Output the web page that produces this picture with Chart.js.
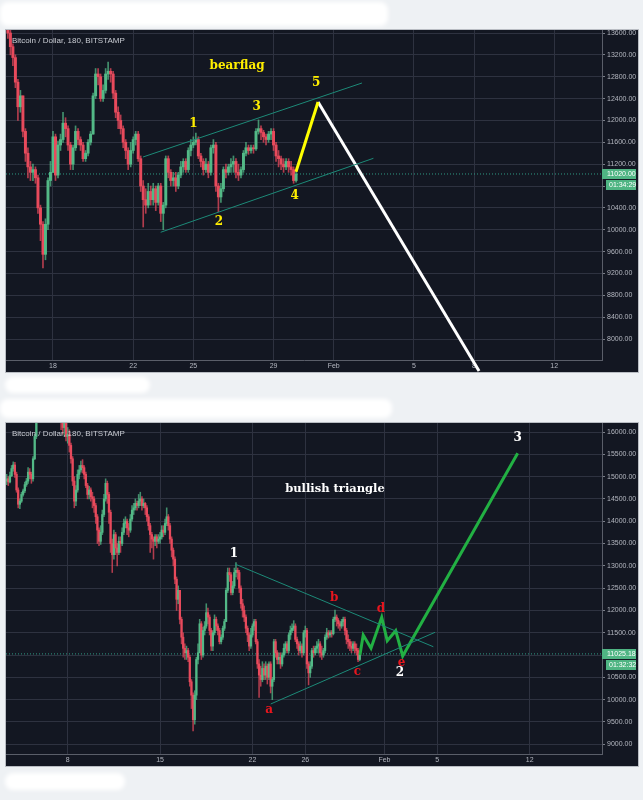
<!DOCTYPE html>
<html>
<head>
<meta charset="utf-8">
<script src="https://cdn.jsdelivr.net/npm/chart.js@4.4.1/dist/chart.umd.min.js"></script>
<style>
  html, body { margin: 0; padding: 0; background: #eef1f4; }
  body { width: 643px; height: 800px; position: relative; overflow: hidden; }
  .panel { position: absolute; left: 6px; width: 632px; background: #131722; outline: 1px solid #b9bdc3; }
  .panel canvas { display: block; }
  #topPanel { top: 30px; height: 342px; }
  #bottomPanel { top: 423px; height: 343px; }
  .smudge { position: absolute; background: #fff; border-radius: 8px; filter: blur(2px); }
</style>
</head>
<body>
<div class="smudge" style="left:0;top:2px;width:388px;height:24px"></div>
<div class="smudge" style="left:5px;top:377px;width:145px;height:16px"></div>
<div class="smudge" style="left:0;top:399px;width:392px;height:19px"></div>
<div class="smudge" style="left:5px;top:773px;width:120px;height:17px"></div>

<div class="panel" id="topPanel"><canvas id="topChart" width="632" height="342"></canvas></div>
<div class="panel" id="bottomPanel"><canvas id="bottomChart" width="632" height="343"></canvas></div>

<script>
// BTC/USD 3h candles, day numbers counted from Jan 1 2018 (Feb 1 = 32)
const candleStart = 3.375;
const candleStep = 0.125;
const firstOpen = 14900;

const closes = [
  14950, 14880, 15020, 15180, 15260,
  15050, 14700, 14380, 14450, 14600, 14680, 14820, 14900,
  15100, 15050, 14950, 15400, 15900, 16300, 16500, 16700,
  16900, 17000, 16800, 16950, 17100, 16900, 17050, 17000,
  16800, 16700, 16900, 16600, 16300, 16100, 16250, 15900,
  15950, 15700, 15400, 14900, 14450, 14700, 15050, 15150,
  15250, 15200, 15050, 14800, 14600, 14700, 14550, 14500,
  14350, 14100, 13800, 13550, 13750, 14150, 14500, 14850,
  14600, 14200, 13500, 13250, 13700, 13400, 13300, 13550,
  13500, 13750, 13950, 14000, 13850, 13800, 14050, 14250,
  14300, 14400, 14350, 14450, 14500, 14350, 14400, 14300,
  14100, 13900, 13700, 13600, 13550, 13650, 13550, 13600,
  13650, 13800, 13750, 13950, 14100, 13900, 13600, 13350,
  13150, 12700, 12250, 12450, 11800, 11400, 11150, 11050,
  11100, 10950, 10400, 10100, 9550, 10100, 10900, 11050,
  11700, 11000, 11550, 11650, 11950, 11850, 11550, 11200,
  11500, 11800, 11650, 11550, 11300, 11400, 11600, 11750,
  12450, 12850, 12800, 12400, 12550, 12850, 12900, 12850,
  12500, 12150, 12000, 11850, 11600, 11450, 11200, 11450,
  11650, 11750, 11300, 10800, 10550, 10450, 10700, 10550,
  10750, 10500, 10800, 10300, 10450, 11300, 11050, 10900,
  10950, 10800, 11000, 11150, 11250, 11100, 11450, 11550,
  11600, 11650, 11350, 11250, 11100, 11200, 11050, 11500,
  11550, 10800, 10600, 10750, 11100, 11050, 11150, 11200,
  11250, 11050, 11000, 11100, 11400, 11500, 11450, 11500,
  11480, 11800, 11850, 11780, 11700, 11650, 11750, 11800,
  11550, 11350, 11300, 11200, 11150, 11250, 11150, 11100,
  10900, 11020,
];

const highs = [
  15050, 15000, 15100, 15250, 15330,
  15320, 15100, 14750, 14500, 14650, 14720, 14880, 14960,
  15200, 15180, 15100, 15450, 15950, 16400, 16650, 16800,
  17050, 17150, 17050, 17100, 17200, 17150, 17200, 17150,
  17050, 16900, 17000, 16950, 16650, 16400, 16400, 16300,
  16100, 16050, 15750, 15450, 15000, 14800, 15150, 15250,
  15350, 15380, 15250, 15100, 14850, 14780, 14750, 14650,
  14550, 14400, 14150, 13850, 13900, 14250, 14600, 14950,
  14900, 14650, 14250, 13600, 13800, 13750, 13500, 13650,
  13650, 13850, 14050, 14100, 14050, 13950, 14150, 14350,
  14400, 14500, 14450, 14600, 14650, 14550, 14500, 14420,
  14350, 14150, 13950, 13750, 13650, 13700, 13700, 13700,
  13750, 13900, 13900, 14050, 14300, 14150, 13950, 13650,
  13400, 13200, 12750, 12550, 12450, 11850, 11500, 11250,
  11200, 11150, 11000, 10450, 10150, 10200, 10950, 11250,
  11800, 11750, 11620, 11750, 12150, 12050, 11900, 11600,
  11550, 11900, 11850, 11700, 11600, 11450, 11650, 11800,
  12500, 12950, 12950, 12850, 12650, 12950, 13070, 12950,
  12900, 12550, 12250, 12100, 11900, 11650, 11500, 11600,
  11700, 11800, 11800, 11350, 10900, 10750, 10850, 10800,
  10850, 10800, 10850, 10850, 10500, 11350, 11350, 11100,
  11050, 11050, 11050, 11250, 11300, 11300, 11500, 11650,
  11700, 11770, 11700, 11400, 11300, 11300, 11250, 11550,
  11650, 11600, 10850, 10850, 11150, 11200, 11200, 11300,
  11350, 11300, 11200, 11150, 11450, 11600, 11550, 11550,
  11550, 11850, 12010, 11900, 11820, 11750, 11800, 11850,
  11850, 11600, 11450, 11350, 11300, 11300, 11300, 11250,
  11150, 11080,
];

const lows = [
  14820, 14800, 14860, 15000, 15120,
  14980, 14650, 14300, 14280, 14420, 14560, 14640, 14780,
  14850, 14950, 14850, 14900, 15380, 15850, 16250, 16450,
  16650, 16800, 16700, 16750, 16900, 16800, 16850, 16850,
  16600, 16550, 16650, 16250, 16050, 15950, 15900, 15800,
  15750, 15550, 15300, 14800, 14300, 14350, 14650, 14950,
  15100, 15080, 14950, 14750, 14500, 14500, 14450, 14300,
  14200, 13950, 13500, 13450, 13480, 13700, 14100, 14450,
  14400, 13950, 13300, 12850, 13150, 13250, 13000, 13250,
  13300, 13450, 13700, 13850, 13700, 13650, 13750, 14000,
  14150, 14250, 14250, 14300, 14350, 14250, 14300, 14150,
  14000, 13800, 13300, 13400, 13150, 13450, 13400, 13500,
  13500, 13600, 13650, 13700, 13900, 13800, 13500, 13200,
  13000, 12600, 12000, 12150, 11700, 11250, 10950, 10900,
  10900, 10850, 10300, 9800, 9300, 9450, 10000, 10800,
  11050, 10900, 10950, 11450, 11600, 11700, 11450, 11100,
  11100, 11450, 11550, 11450, 11250, 11250, 11350, 11550,
  11750, 12400, 12650, 12350, 12350, 12500, 12750, 12700,
  12400, 12050, 11850, 11750, 11500, 11300, 11100, 11150,
  11400, 11550, 11250, 10700, 10050, 10300, 10400, 10450,
  10450, 10350, 10450, 10150, 10000, 10400, 10950, 10800,
  10800, 10700, 10750, 10950, 11050, 11050, 11050, 11350,
  11500, 11550, 11300, 11150, 11000, 11050, 10950, 11000,
  11400, 10700, 10330, 10500, 10700, 10950, 11000, 11050,
  11050, 10950, 10900, 10950, 11050, 11350, 11380, 11400,
  11400, 11450, 11750, 11650, 11600, 11550, 11600, 11650,
  11450, 11250, 11150, 11100, 11050, 11100, 11050, 11000,
  10850, 10870,
];

// axes
const topDayTicks = [18, 22, 25, 29, 32, 36, 39, 43];
const topDayLabels = ["18", "22", "25", "29", "Feb", "5", "8", "12"];
const topPriceTicks = [8000, 8400, 8800, 9200, 9600, 10000, 10400, 10800, 11200, 11600, 12000, 12400, 12800, 13200, 13600];
const bottomDayTicks = [8, 15, 22, 26, 32, 36, 43];
const bottomDayLabels = ["8", "15", "22", "26", "Feb", "5", "12"];
const bottomPriceTicks = [9000, 9500, 10000, 10500, 11000, 11500, 12000, 12500, 13000, 13500, 14000, 14500, 15000, 15500, 16000];

// drawn lines [day, price]
const flagUpper = [[22.49, 11331], [33.41, 12685]];
const flagLower = [[23.37, 9953], [33.98, 11307]];
const wave5 = [[30.12, 11062], [31.22, 12337]];
const dropLine = [[31.22, 12337], [39.25, 7415]];
const triUpper = [[20.67, 13041], [35.7, 11186]];
const triLower = [[23.38, 9902], [35.83, 11509]];
const triWaves = [[30.14, 11000], [30.39, 11449], [30.98, 11151], [31.79, 11846], [32.21, 11321], [32.85, 11545], [33.38, 10978], [42.09, 15522]];

// text marks
const topTitle = "bearflag";
const topWaves = [
  { text: "1", day: 25.0, price: 11935 },
  { text: "2", day: 26.28, price: 10136 },
  { text: "3", day: 28.16, price: 12240 },
  { text: "4", day: 30.05, price: 10617 },
  { text: "5", day: 31.12, price: 12690 },
];
const bottomTitle = "bullish triangle";
const bottomWaves = [
  { text: "1", day: 20.6, price: 13265 },
  { text: "2", day: 33.17, price: 10590 },
  { text: "3", day: 42.09, price: 15859 },
];
const bottomLetters = [
  { text: "a", day: 23.27, price: 9767 },
  { text: "b", day: 28.2, price: 12285 },
  { text: "c", day: 29.94, price: 10626 },
  { text: "d", day: 31.73, price: 12025 },
  { text: "e", day: 33.3, price: 10828 },
];

const upColor = "#53b987";
const downColor = "#e84a5c";
const gridColor = "#2e3240";
const tickText = "#b4b7c0";

function lineSet(points, color, width, extra) {
  return Object.assign({
    type: "line",
    data: points.map(([x, y]) => ({ x, y })),
    borderColor: color,
    borderWidth: width,
    pointRadius: 0,
    tension: 0,
    order: 0,
  }, extra || {});
}

function priceChart(canvasId, cfg) {
  const days = closes.map((_, i) => candleStart + i * candleStep);
  const opens = closes.map((c, i) => (i ? closes[i - 1] : firstOpen));
  const up = closes.map((c, i) => c >= opens[i]);

  const marks = {
    id: "marks",
    afterDatasetsDraw(chart) {
      const { ctx, chartArea, scales } = chart;
      const x = scales.x, y = scales.y;
      ctx.save();
      ctx.font = '8px "Liberation Sans"';
      ctx.fillStyle = "#c9ccd3";
      ctx.textAlign = "left";
      ctx.textBaseline = "middle";
      ctx.fillText("Bitcoin / Dollar, 180, BITSTAMP", 6, 11);

      ctx.textAlign = "center";
      cfg.texts.forEach((group) => {
        ctx.font = group.font;
        ctx.fillStyle = group.color;
        group.items.forEach((m) => {
          ctx.fillText(m.text, x.getPixelForValue(m.day), y.getPixelForValue(m.price));
        });
      });

      // last price and countdown tags on the price axis
      const py = Math.round(y.getPixelForValue(cfg.lastPrice));
      ctx.fillStyle = "#4fb583";
      ctx.fillRect(chartArea.right, py - 5, chart.width - chartArea.right - 2, 10);
      ctx.fillRect(chartArea.right + 4, py + 6, chart.width - chartArea.right - 6, 10);
      ctx.fillStyle = "#ffffff";
      ctx.font = '7px "Liberation Sans"';
      ctx.textAlign = "left";
      ctx.fillText(cfg.lastPrice.toFixed(2), chartArea.right + 5, py);
      ctx.fillText(cfg.timer, chartArea.right + 7, py + 11);
      ctx.restore();
    },
  };

  return new Chart(document.getElementById(canvasId), {
    type: "bar",
    data: {
      datasets: [
        ...cfg.lines,
        {
          data: days.map((d, i) => ({ x: d, y: [opens[i], closes[i]] })),
          backgroundColor: up.map((u) => (u ? upColor : downColor)),
          barThickness: cfg.body,
          grouped: false,
          order: 1,
        },
        {
          data: days.map((d, i) => ({ x: d, y: [lows[i], highs[i]] })),
          backgroundColor: up.map((u) => (u ? "rgba(83,185,135,0.75)" : "rgba(232,74,92,0.75)")),
          barThickness: cfg.wick,
          grouped: false,
          order: 2,
        },
        lineSet([[cfg.xMin, cfg.lastPrice], [cfg.xMax, cfg.lastPrice]], "#2f9a84", 1, { borderDash: [1, 2], order: 3 }),
      ],
    },
    options: {
      responsive: false,
      animation: false,
      events: [],
      layout: { padding: 0 },
      plugins: { legend: { display: false }, tooltip: { enabled: false } },
      scales: {
        x: {
          type: "linear",
          min: cfg.xMin,
          max: cfg.xMax,
          offset: false,
          afterBuildTicks: (s) => { s.ticks = cfg.xTicks.map((v) => ({ value: v })); },
          afterFit: (s) => { s.height = 12; s.paddingLeft = 0; s.paddingRight = 0; },
          ticks: {
            autoSkip: false,
            maxRotation: 0,
            padding: 2,
            color: tickText,
            font: { family: "Liberation Sans", size: 7 },
            callback: (v, i) => cfg.xLabels[i],
          },
          grid: { color: gridColor, offset: false, drawTicks: false },
          border: { color: "#5a5e69" },
        },
        y: {
          type: "linear",
          position: "right",
          min: cfg.yMin,
          max: cfg.yMax,
          afterBuildTicks: (s) => { s.ticks = cfg.yTicks.map((v) => ({ value: v })); },
          afterFit: (s) => { s.width = 36; s.paddingTop = 0; s.paddingBottom = 0; },
          ticks: {
            padding: 2,
            color: tickText,
            font: { family: "Liberation Sans", size: 7 },
            callback: (v) => v.toFixed(2),
          },
          grid: { color: gridColor, tickLength: 3, tickColor: "#7a7e88" },
          border: { color: "#5a5e69" },
        },
      },
    },
    plugins: [marks],
  });
}

const serif = 'bold 12px "DejaVu Serif"';

priceChart("topChart", {
  xMin: 15.656, xMax: 45.382, yMin: 7616, yMax: 13655,
  xTicks: topDayTicks, xLabels: topDayLabels, yTicks: topPriceTicks,
  body: 2.3, wick: 1,
  lastPrice: 11020.0, timer: "01:34:29",
  lines: [
    lineSet(flagUpper, "#1d8a78", 1),
    lineSet(flagLower, "#1d8a78", 1),
    lineSet(wave5, "#ffff00", 3),
    lineSet(dropLine, "#ffffff", 3, { clip: { left: 0, top: 0, right: 0, bottom: 12 } }),
  ],
  texts: [
    { font: serif, color: "#ffee00", items: [{ text: topTitle, day: 27.18, price: 12996 }] },
    { font: serif, color: "#ffee00", items: topWaves },
  ],
});

priceChart("bottomChart", {
  xMin: 3.326, xMax: 48.48, yMin: 8781, yMax: 16202,
  xTicks: bottomDayTicks, xLabels: bottomDayLabels, yTicks: bottomPriceTicks,
  body: 1.6, wick: 0.9,
  lastPrice: 11025.18, timer: "01:32:32",
  lines: [
    lineSet(triUpper, "#1d8a78", 1),
    lineSet(triLower, "#1d8a78", 1),
    lineSet(triWaves, "#22b043", 3),
  ],
  texts: [
    { font: 'bold 11.5px "DejaVu Serif"', color: "#ffffff", items: [{ text: bottomTitle, day: 28.25, price: 14722 }] },
    { font: serif, color: "#ffffff", items: bottomWaves },
    { font: serif, color: "#e8161e", items: bottomLetters },
  ],
});
</script>
</body>
</html>
